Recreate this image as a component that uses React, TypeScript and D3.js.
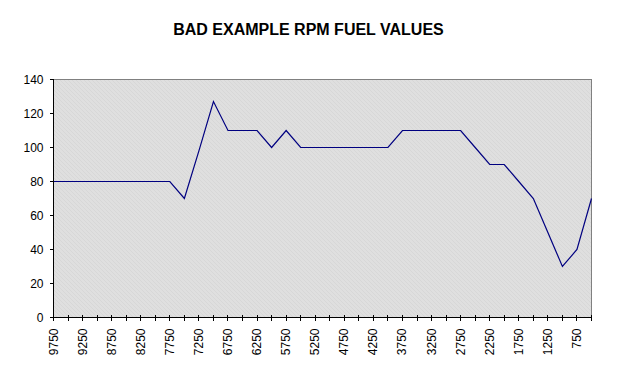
import React from "react";
import * as d3 from "d3";

const categories: string[] = [
  "9750","9500","9250","9000","8750","8500","8250","8000","7750","7500",
  "7250","7000","6750","6500","6250","6000","5750","5500","5250","5000",
  "4750","4500","4250","4000","3750","3500","3250","3000","2750","2500",
  "2250","2000","1750","1500","1250","1000","750","500",
];
const fuelValues: number[] = [
  80, 80, 80, 80, 80, 80, 80, 80, 80, 70,
  98, 127, 110, 110, 110, 100, 110, 100, 100, 100,
  100, 100, 100, 100, 110, 110, 110, 110, 110, 100,
  90, 90, 80, 70, 50, 30, 40, 70,
];
const yTicks: number[] = [0, 20, 40, 60, 80, 100, 120, 140];
const title = "BAD EXAMPLE RPM FUEL VALUES";

export default function App() {
  const W = 622, H = 376;
  const left = 53.5, right = 591.5, top = 79.5, bottom = 317.5;
  const x = d3.scalePoint<string>().domain(categories).range([left, right]);
  const y = d3.scaleLinear().domain([0, 140]).range([bottom, top]);
  const line = d3.line<number>()
    .x((_, i) => x(categories[i]) as number)
    .y((d) => y(d));
  const font = "Arial, 'Liberation Sans', sans-serif";
  return (
    <svg width={W} height={H} style={{ position: "absolute", left: 0, top: 0, display: "block", background: "#fff" }}>
      <defs>
        <pattern id="hatch" width="4" height="4" patternUnits="userSpaceOnUse">
          <rect width="4" height="4" fill="#dfdfdf" />
          <path d="M0,0 L4,4" stroke="#d7d7d7" strokeWidth="1" />
        </pattern>
      </defs>
      <text x={308.5} y={34.5} textAnchor="middle" fontFamily={font} fontWeight="bold" fontSize={16} fill="#000">{title}</text>
      <rect x={left} y={top} width={right - left} height={bottom - top} fill="url(#hatch)" stroke="#808080" strokeWidth={1} />
      <path d={line(fuelValues) || ""} fill="none" stroke="#000080" strokeWidth={1.2} />
      {/* y axis */}
      <line x1={left} x2={left} y1={top} y2={bottom} stroke="#000" shapeRendering="crispEdges" />
      {yTicks.map((t) => (
        <g key={t}>
          <line x1={left - 4} x2={left} y1={y(t)} y2={y(t)} stroke="#000" shapeRendering="crispEdges" />
          <text x={left - 10} y={y(t) + 4} textAnchor="end" fontFamily={font} fontSize={12} fill="#000">{t}</text>
        </g>
      ))}
      {/* x axis */}
      <line x1={left} x2={right} y1={bottom} y2={bottom} stroke="#000" shapeRendering="crispEdges" />
      {categories.map((c, i) => (
        <g key={c}>
          <line x1={x(c)} x2={x(c)} y1={bottom - 3} y2={bottom + 3} stroke="#000" shapeRendering="crispEdges" />
          {i % 2 === 0 && (
            <text
              transform={`translate(${(x(c) as number) + 4},${bottom + 11}) rotate(-90)`}
              textAnchor="end"
              fontFamily={font}
              fontSize={12}
              fill="#000"
            >{c}</text>
          )}
        </g>
      ))}
    </svg>
  );
}
